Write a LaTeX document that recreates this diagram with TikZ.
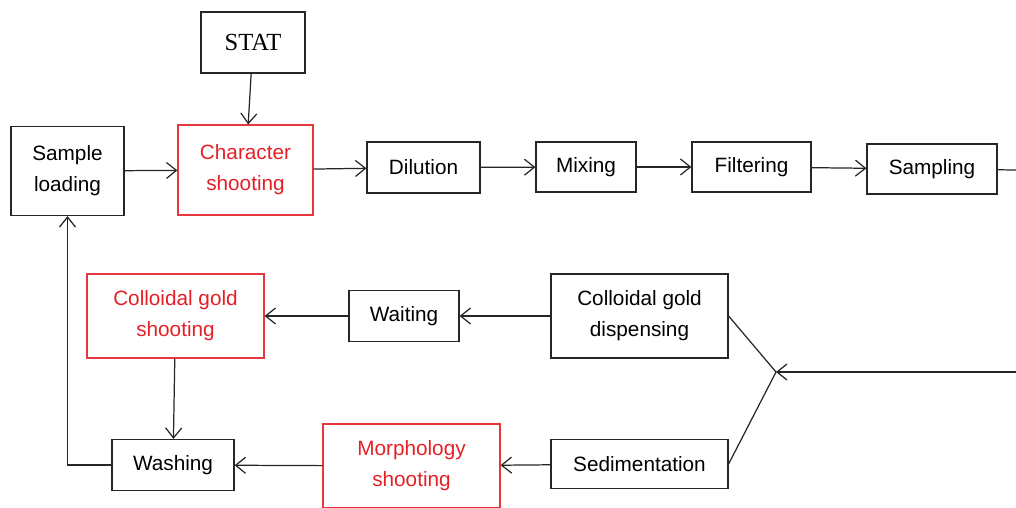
\documentclass[tikz,border=0pt]{standalone}
\usepackage{fontspec}
\setmainfont{Liberation Sans}
\newfontfamily\statfont{Liberation Serif}
\usetikzlibrary{arrows.meta}
\definecolor{shootred}{RGB}{228,32,38}
\tikzset{
	box/.style={draw=black!85, line width=0.7pt, align=center, inner sep=0pt,
		font=\fontsize{11.8}{17.6}\selectfont},
	redbox/.style={box, draw=shootred!90, text=shootred},
	link/.style={draw=black!85, line width=0.7pt},
	>={Straight Barb[length=2mm, width=3.2mm]}
}
\begin{document}
\begin{tikzpicture}[x=0.02cm, y=-0.02cm]
	\useasboundingbox (0,0) rectangle (1016,507);
	\clip (0,0) rectangle (1016,507);
	
	\node[box, minimum width=2.08cm, minimum height=1.22cm, font=\statfont\fontsize{14}{16}\selectfont] (stat) at (253,42.5) {STAT};
	\node[box, minimum width=2.26cm, minimum height=1.78cm] (load) at (67.5,171) {Sample\\loading};
	\node[redbox, minimum width=2.70cm, minimum height=1.80cm] (char) at (245.5,170) {Character\\shooting};
	\node[box, minimum width=2.26cm, minimum height=1.02cm] (dil) at (423.5,167.5) {Dilution};
	\node[box, minimum width=2.00cm, minimum height=1.00cm] (mix) at (586,167) {Mixing};
	\node[box, minimum width=2.38cm, minimum height=1.00cm] (filt) at (751.5,167) {Filtering};
	\node[box, minimum width=2.60cm, minimum height=1.00cm] (samp) at (932,169) {Sampling};
	
	\node[box, minimum width=3.54cm, minimum height=1.68cm] (disp) at (639.5,316) {Colloidal gold\\dispensing};
	\node[box, minimum width=2.20cm, minimum height=1.02cm] (wait) at (404,316) {Waiting};
	\node[redbox, minimum width=3.54cm, minimum height=1.68cm] (cgshot) at (175.5,316) {Colloidal gold\\shooting};
	\node[box, minimum width=2.44cm, minimum height=1.02cm] (wash) at (173,465) {Washing};
	\node[redbox, minimum width=3.54cm, minimum height=1.68cm] (morph) at (411.5,466) {Morphology\\shooting};
	\node[box, minimum width=3.54cm, minimum height=0.98cm] (sed) at (639.5,464) {Sedimentation};
	
	\coordinate (sampout) at (1016,170);
	\coordinate (loopin) at (1016,372);
	\coordinate (split) at (776,372);
	
	\draw[link, ->] (stat) edge (char)
	(load) edge (char)
	(char) edge (dil)
	(dil) edge (mix)
	(mix) edge (filt)
	(filt) edge (samp)
	(disp) edge (wait)
	(wait) edge (cgshot)
	(cgshot) edge (wash)
	(sed) edge (morph)
	(morph) edge (wash);
	
	\draw[link, ->] (loopin) -- (split);
	\draw[link] (samp) -- (sampout);
	\draw[link] (disp.east) -- (split) -- (sed.east);
	\draw[link, ->] (wash.west) -| (load.south);
\end{tikzpicture}
\end{document}
